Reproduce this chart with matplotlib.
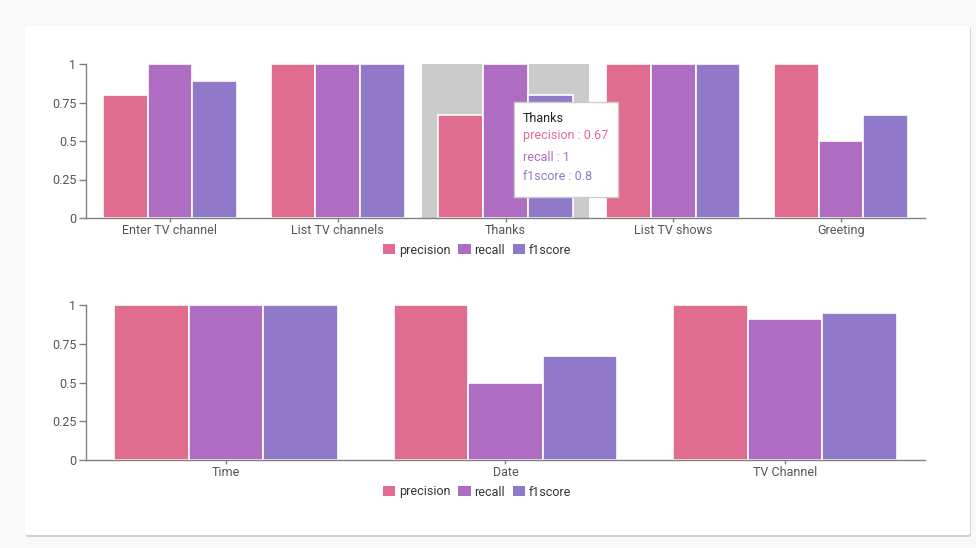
import numpy as np
import matplotlib.pyplot as plt
from matplotlib.patches import FancyBboxPatch, Rectangle, Patch

plt.rcParams['font.family'] = ['Roboto', 'DejaVu Sans']

metrics = ['precision', 'recall', 'f1score']
colors = ['#e06c8f', '#af6dc2', '#8f79c8']

intents = ['Enter TV channel', 'List TV channels', 'Thanks', 'List TV shows', 'Greeting']
intent_precision = [0.8, 1, 0.67, 1, 1]
intent_recall = [1, 1, 1, 1, 0.5]
intent_f1 = [0.89, 1, 0.8, 1, 0.67]

entities = ['Time', 'Date', 'TV Channel']
entity_precision = [1, 1, 1]
entity_recall = [1, 0.5, 0.91]
entity_f1 = [1, 0.67, 0.95]

yticks = [0, 0.25, 0.5, 0.75, 1]
ytick_labels = ['0', '0.25', '0.5', '0.75', '1']

W, H = 976, 548
fig = plt.figure(figsize=(W / 100, H / 100), dpi=100)
fig.patch.set_facecolor('#f8f8f8')


def fx(px):
    return px / W


def fy(py):
    return 1 - py / H


# white card with a soft shadow
fig.patches.append(FancyBboxPatch((fx(26), fy(537)), fx(945), 510 / H,
                                  boxstyle='round,pad=0,rounding_size=0.003',
                                  transform=fig.transFigure, facecolor='#d0d0d0',
                                  edgecolor='none', zorder=-3))
fig.patches.append(FancyBboxPatch((fx(25), fy(535)), fx(945), 509 / H,
                                  boxstyle='round,pad=0,rounding_size=0.003',
                                  transform=fig.transFigure, facecolor='white',
                                  edgecolor='none', zorder=-2))


def grouped_bars(ax, cats, series, highlight=None):
    n = len(cats)
    x = np.arange(n)
    inner = 0.8 / len(series)
    if highlight is not None:
        ax.add_patch(Rectangle((highlight - 0.5, 0), 1, 1, facecolor='#cbcbcb',
                               edgecolor='none', zorder=1))
    for i, (vals, c) in enumerate(zip(series, colors)):
        ax.bar(x - 0.4 + inner * (i + 0.5), vals, width=inner, color=c,
               edgecolor='white', linewidth=1.2, zorder=2, clip_on=False)
    ax.set_xlim(-0.5, n - 0.5)
    ax.set_ylim(0, 1)
    ax.set_xticks(x)
    ax.set_xticklabels(cats)
    ax.set_yticks(yticks)
    ax.set_yticklabels(ytick_labels)
    for s in ['top', 'right']:
        ax.spines[s].set_visible(False)
    for s in ['left', 'bottom']:
        ax.spines[s].set_color('#808080')
        ax.spines[s].set_linewidth(1)
        ax.spines[s].set_zorder(3)
    ax.tick_params(colors='#808080', labelcolor='#555555', labelsize=9, width=1)
    ax.tick_params(axis='y', length=5, pad=2)
    ax.tick_params(axis='x', length=3, pad=1)
    ax.set_facecolor('none')


ax1 = fig.add_axes([fx(86), fy(218), fx(925) - fx(86), fy(64) - fy(218)])
grouped_bars(ax1, intents, [intent_precision, intent_recall, intent_f1], highlight=2)

ax2 = fig.add_axes([fx(86), fy(460), fx(925) - fx(86), fy(305) - fy(460)])
grouped_bars(ax2, entities, [entity_precision, entity_recall, entity_f1])

handles = [Patch(facecolor=c, edgecolor='none', label=m) for m, c in zip(metrics, colors)]
for ly in [250, 492]:
    fig.legend(handles=handles, loc='center', bbox_to_anchor=(fx(477), fy(ly)),
               ncol=3, frameon=False, fontsize=9, handlelength=1.0,
               handleheight=0.9, handletextpad=0.3, columnspacing=0.6,
               labelcolor='#333333')

# hover tooltip over the "Thanks" group
tip = 2
fig.patches.append(Rectangle((fx(514), fy(197)), fx(104), 95 / H,
                             transform=fig.transFigure, facecolor='white',
                             edgecolor='#cccccc', linewidth=1, zorder=5))
fig.text(fx(523), fy(118), intents[tip], fontsize=9, color='#222222',
         va='center', zorder=6)
tip_lines = [f'precision : {intent_precision[tip]:g}',
             f'recall : {intent_recall[tip]:g}',
             f'f1score : {intent_f1[tip]:g}']
for line, c, py in zip(tip_lines, colors, [136, 157, 177]):
    fig.text(fx(523), fy(py), line, fontsize=9, color=c, va='center', zorder=6)

fig.savefig('out.png', dpi=100, facecolor=fig.get_facecolor())
